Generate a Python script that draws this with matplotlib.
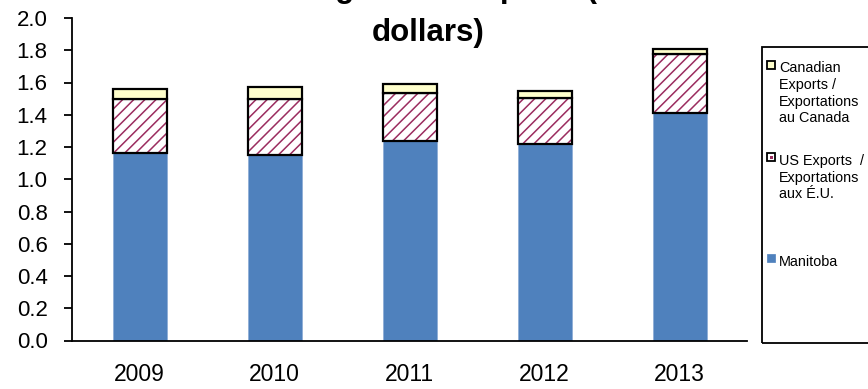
import matplotlib
matplotlib.use("Agg")
import matplotlib.pyplot as plt
from matplotlib.patches import Rectangle

# export values, billion dollars
years = ["2009", "2010", "2011", "2012", "2013"]
manitoba = [1.16, 1.15, 1.24, 1.22, 1.41]
us_exports = [0.335, 0.345, 0.295, 0.285, 0.365]
canadian_exports = [0.065, 0.075, 0.055, 0.04, 0.03]
series_names = ["Canadian\nExports /\nExportations\nau Canada",
                "US Exports  /\nExportations\naux É.U.",
                "Manitoba"]
title = "Manitoba Agri-food Exports (billion\ndollars)"

blue = "#4F81BD"
yellow = "#FFFFCC"
maroon = "#9B2D5F"

plt.rcParams['font.family'] = ['Liberation Sans', 'DejaVu Sans']
plt.rcParams['hatch.linewidth'] = 1.1

fig = plt.figure(figsize=(8.68, 3.89), dpi=100)
ax = fig.add_axes([72 / 868, 1 - 340.5 / 389, (747 - 72) / 868, (340.5 - 18) / 389])

x = list(range(len(years)))
w = 0.4
us_bottom = manitoba
can_bottom = [m + u for m, u in zip(manitoba, us_exports)]

ax.bar(x, manitoba, w, color=blue, edgecolor="#8FAED6", linewidth=0.6)
# hatched layer first, then a black outline on top
ax.bar(x, us_exports, w, bottom=us_bottom, color="white", edgecolor=maroon,
       hatch="///", linewidth=0)
ax.bar(x, us_exports, w, bottom=us_bottom, fill=False, edgecolor="black", linewidth=1.6)
ax.bar(x, canadian_exports, w, bottom=can_bottom, color=yellow, edgecolor="black",
       linewidth=1.6)

ax.set_xlim(-0.5, len(years) - 0.5)
ax.set_ylim(0, 2.0)
ax.set_yticks([i / 10 for i in range(0, 21, 2)])
ax.set_yticklabels(["%.1f" % (i / 10) for i in range(0, 21, 2)])
ax.set_xticks(x)
ax.set_xticklabels(years)
ax.tick_params(axis='y', length=5.5, width=1.3, pad=12, labelsize=16)
ax.tick_params(axis='x', length=0, pad=16, labelsize=16.5)
for side in ["top", "right"]:
    ax.spines[side].set_visible(False)
for side in ["left", "bottom"]:
    ax.spines[side].set_linewidth(1.3)

fig.text(428 / 868, 1 - 48 / 389, title, ha='center', va='bottom',
         fontsize=22.5, fontweight='bold', linespacing=1.62)

# legend box, running off the right edge
fig.patches.append(Rectangle((762 / 868, 1 - 343 / 389), 0.2, (343 - 47) / 389,
                             transform=fig.transFigure, fill=False,
                             edgecolor="black", linewidth=1.3, clip_on=False))

entries = [
    (series_names[0], 64.5, dict(facecolor=yellow, edgecolor="black", linewidth=1.3)),
    (series_names[1], 157, dict(facecolor="white", edgecolor="black", linewidth=1.3)),
    (series_names[2], 257.5, dict(facecolor=blue, edgecolor=blue, linewidth=0.5)),
]
for label, yc, style in entries:
    fig.patches.append(Rectangle((767 / 868, 1 - (yc + 4) / 389), 8 / 868, 8 / 389,
                                 transform=fig.transFigure, **style))
    fig.text(779 / 868, 1 - (yc - 3) / 389, label, ha='left', va='top',
             fontsize=10.4, linespacing=1.24)

# small maroon mark inside the US legend swatch
fig.patches.append(Rectangle((770 / 868, 1 - 159 / 389), 3 / 868, 3 / 389,
                             transform=fig.transFigure, facecolor=maroon,
                             edgecolor=maroon, linewidth=0))

fig.savefig("out.png", dpi=100)
